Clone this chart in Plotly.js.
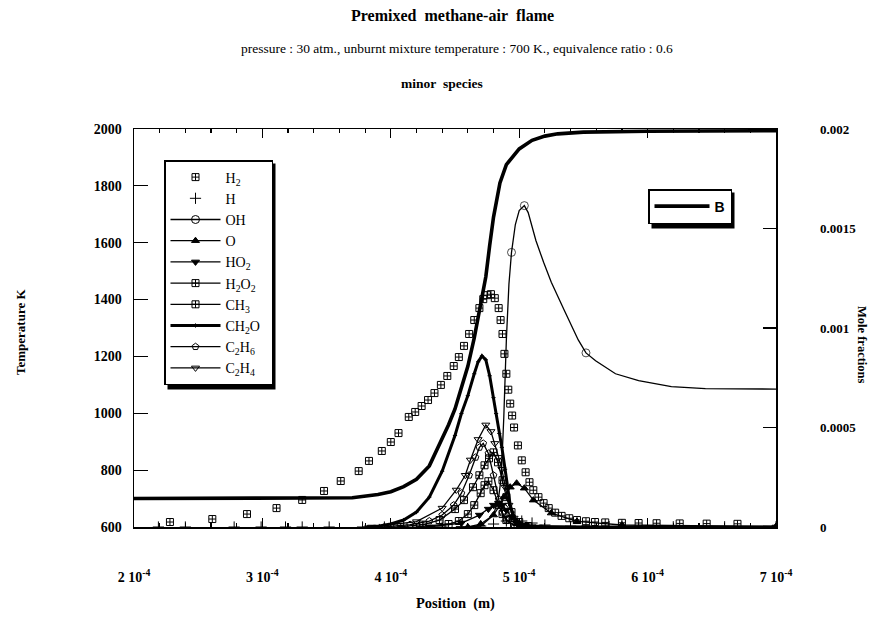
<!DOCTYPE html>
<html><head><meta charset="utf-8">
<script src="https://cdn.plot.ly/plotly-3.0.1.min.js"></script>
<style>html,body{margin:0;padding:0;background:#fff}</style>
</head><body><div id="chart" style="width:880px;height:625px"></div>
<script>
// ---- tick labels ----
const xTickVals = [2e-4, 3e-4, 4e-4, 5e-4, 6e-4, 7e-4];
const xTickText = ['2 10<sup>-4</sup>', '3 10<sup>-4</sup>', '4 10<sup>-4</sup>', '5 10<sup>-4</sup>', '6 10<sup>-4</sup>', '7 10<sup>-4</sup>'];
const tempTickVals = [600, 800, 1000, 1200, 1400, 1600, 1800, 2000];
const moleTickVals = [0, 0.0005, 0.001, 0.0015, 0.002];
const moleTickText = ['0', '0.0005', '0.001', '0.0015', '0.002'];

// ---- temperature (left axis) ----
const posT = [2.0e-4,3.0e-4,3.5e-4,3.7e-4,3.9e-4,4.0e-4,4.1e-4,4.2e-4,4.3e-4,4.38e-4,4.45e-4,4.5e-4,4.55e-4,4.6e-4,4.65e-4,4.7e-4,4.74e-4,4.77e-4,4.8e-4,4.85e-4,4.9e-4,5.0e-4,5.1e-4,5.2e-4,5.3e-4,5.5e-4,6.0e-4,7.0e-4];
const temperature = [700,700,701,703,714,724,742,768,815,890,960,1015,1085,1165,1265,1380,1480,1590,1690,1810,1875,1930,1960,1975,1983,1989,1992,1994];

// ---- species mole fractions (right axis) ----
const posH2 = [2.28e-4,2.61e-4,2.88e-4,3.11e-4,3.31e-4,3.48e-4,3.61e-4,3.75e-4,3.83e-4,3.93e-4,4.00e-4,4.06e-4,4.14e-4,4.19e-4,4.24e-4,4.29e-4,4.34e-4,4.39e-4,4.44e-4,4.49e-4,4.53e-4,4.57e-4,4.61e-4,4.65e-4,4.69e-4,4.72e-4,4.75e-4,4.78e-4,4.81e-4,4.84e-4,4.855e-4,4.87e-4,4.885e-4,4.90e-4,4.915e-4,4.93e-4,4.945e-4,4.96e-4,4.99e-4,5.02e-4,5.05e-4,5.08e-4,5.11e-4,5.15e-4,5.19e-4,5.23e-4,5.28e-4,5.33e-4,5.39e-4,5.45e-4,5.52e-4,5.59e-4,5.67e-4,5.80e-4,5.93e-4,6.07e-4,6.25e-4,6.46e-4,6.70e-4];
const moleH2 = [2.5e-5,4.0e-5,6.5e-5,9.5e-5,1.36e-4,1.81e-4,2.31e-4,2.81e-4,3.32e-4,3.82e-4,4.27e-4,4.72e-4,5.53e-4,5.78e-4,6.08e-4,6.38e-4,6.73e-4,7.14e-4,7.59e-4,8.09e-4,8.54e-4,9.1e-4,9.7e-4,1.04e-3,1.10e-3,1.145e-3,1.165e-3,1.17e-3,1.15e-3,1.10e-3,1.04e-3,9.7e-4,8.7e-4,7.7e-4,6.9e-4,6.2e-4,5.6e-4,5.0e-4,4.1e-4,3.35e-4,2.75e-4,2.25e-4,1.85e-4,1.5e-4,1.2e-4,9.5e-5,7.2e-5,5.6e-5,4.4e-5,3.5e-5,2.9e-5,2.5e-5,2.3e-5,2.1e-5,2.0e-5,1.9e-5,1.8e-5,1.7e-5,1.6e-5];

const posH = [2.19e-4,2.40e-4,2.78e-4,2.99e-4,3.18e-4,3.31e-4,3.52e-4,3.78e-4,3.95e-4,4.10e-4,4.25e-4,4.40e-4,4.55e-4,4.70e-4,4.80e-4,4.90e-4,4.96e-4,5.02e-4,5.10e-4,5.20e-4,5.40e-4,5.70e-4,6.20e-4,6.60e-4,7.00e-4];
const moleH = [0,0,0,0,0,0,0,0,0,0,0,0,2e-6,5e-6,1.5e-5,3.0e-5,3.5e-5,3.0e-5,2.0e-5,1.0e-5,4e-6,2e-6,1e-6,1e-6,1e-6];

const posOH = [4.60e-4,4.70e-4,4.80e-4,4.84e-4,4.86e-4,4.88e-4,4.90e-4,4.92e-4,4.94e-4,4.97e-4,5.00e-4,5.04e-4,5.07e-4,5.13e-4,5.19e-4,5.25e-4,5.35e-4,5.46e-4,5.52e-4,5.595e-4,5.75e-4,5.93e-4,6.185e-4,6.45e-4,7.00e-4];
const moleOH = [0,5e-6,6e-5,1.5e-4,2.5e-4,5.5e-4,9.4e-4,1.22e-3,1.38e-3,1.52e-3,1.59e-3,1.615e-3,1.58e-3,1.44e-3,1.33e-3,1.23e-3,1.09e-3,9.4e-4,8.75e-4,8.35e-4,7.7e-4,7.35e-4,7.05e-4,6.95e-4,6.93e-4];
const posOHMarkers = [4.94e-4, 5.04e-4, 5.52e-4];

const posO = [4.60e-4,4.70e-4,4.80e-4,4.85e-4,4.88e-4,4.93e-4,4.98e-4,5.04e-4,5.11e-4,5.25e-4,5.45e-4,5.80e-4,7.00e-4];
const moleO = [0,1.5e-5,6e-5,1.1e-4,1.5e-4,2.0e-4,2.2e-4,1.95e-4,1.35e-4,7.0e-5,2.8e-5,1.0e-5,3e-6];

const posHO2 = [4.30e-4,4.55e-4,4.69e-4,4.76e-4,4.80e-4,4.84e-4,4.87e-4,4.90e-4,4.94e-4,4.98e-4,5.04e-4,5.15e-4];
const moleHO2 = [0,2e-5,6e-5,9e-5,1.1e-4,1.2e-4,1.1e-4,8.5e-5,5e-5,2e-5,5e-6,0];

const posH2O2 = [4.20e-4,4.45e-4,4.53e-4,4.60e-4,4.65e-4,4.70e-4,4.73e-4,4.76e-4,4.80e-4,4.84e-4,4.87e-4,4.90e-4,4.96e-4,5.05e-4];
const moleH2O2 = [0,1.5e-5,3e-5,6.5e-5,1.1e-4,1.7e-4,2.1e-4,2.3e-4,1.85e-4,1.1e-4,6.5e-5,3.5e-5,1e-5,0];

const posCH3 = [4.05e-4,4.25e-4,4.38e-4,4.50e-4,4.57e-4,4.64e-4,4.69e-4,4.73e-4,4.765e-4,4.80e-4,4.835e-4,4.87e-4,4.90e-4,4.94e-4,5.00e-4,5.07e-4];
const moleCH3 = [0,1.2e-5,3.5e-5,9e-5,1.35e-4,2.0e-4,2.6e-4,3.1e-4,3.45e-4,3.75e-4,3.25e-4,2.35e-4,1.5e-4,7.5e-5,2.5e-5,5e-6];

const posCH2O = [3.80e-4,3.91e-4,4.00e-4,4.10e-4,4.20e-4,4.30e-4,4.40e-4,4.50e-4,4.55e-4,4.60e-4,4.65e-4,4.68e-4,4.71e-4,4.74e-4,4.77e-4,4.80e-4,4.82e-4,4.845e-4,4.865e-4,4.89e-4,4.91e-4,4.93e-4,4.96e-4,5.00e-4,5.10e-4,5.52e-4,7.00e-4];
const moleCH2O = [0,5e-6,1.5e-5,3.5e-5,7.5e-5,1.5e-4,2.8e-4,4.6e-4,5.7e-4,6.6e-4,7.7e-4,8.3e-4,8.6e-4,8.4e-4,7.6e-4,6.5e-4,5.7e-4,4.7e-4,4.0e-4,2.9e-4,1.9e-4,1.1e-4,5e-5,1.5e-5,2e-6,0,0];

const posC2H6 = [3.95e-4,4.15e-4,4.30e-4,4.40e-4,4.49e-4,4.55e-4,4.61e-4,4.66e-4,4.69e-4,4.72e-4,4.76e-4,4.80e-4,4.84e-4,4.87e-4,4.90e-4,4.96e-4,5.05e-4];
const moleC2H6 = [0,1.2e-5,3.0e-5,6.0e-5,1.1e-4,1.7e-4,2.6e-4,3.5e-4,4.0e-4,4.2e-4,3.7e-4,2.6e-4,1.4e-4,7e-5,3.5e-5,8e-6,0];

const posC2H4 = [3.85e-4,4.20e-4,4.40e-4,4.51e-4,4.58e-4,4.62e-4,4.68e-4,4.74e-4,4.78e-4,4.81e-4,4.84e-4,4.865e-4,4.89e-4,4.92e-4,4.96e-4,5.00e-4,5.10e-4,5.52e-4,7.00e-4];
const moleC2H4 = [0,2.7e-5,9.5e-5,1.86e-4,2.6e-4,3.37e-4,4.4e-4,5.13e-4,4.8e-4,4.2e-4,3.5e-4,2.9e-4,2.0e-4,1.1e-4,4.5e-5,1.5e-5,2e-6,0,0];

// ---- build traces ----
const thin = 1.3;
function species(name, x, y, symbol, opts) {
  opts = opts || {};
  return {
    type: 'scatter', x: x, y: y, name: name, yaxis: 'y2', legend: 'legend',
    mode: opts.mode || 'lines+markers',
    line: {color: 'black', width: opts.width || thin},
    marker: {symbol: symbol, size: opts.size || 7, color: 'black', line: {color: 'black', width: 1}},
    showlegend: opts.showlegend !== false,
    hoverinfo: 'skip'
  };
}
const ohSizes = posOH.map(v => posOHMarkers.includes(v) ? 8 : 0);
const ohTrace = species('OH', posOH, moleOH, 'circle-open', {showlegend: false});
ohTrace.marker.size = ohSizes;
// legend-only entry for OH (no data drawn)
const ohLegend = species('OH', [null], [null], 'circle-open', {size: 8});

const traces = [
  species('H<sub>2</sub>', posH2, moleH2, 'square-cross-open', {mode: 'markers', size: 7}),
  species('H', posH, moleH, 'cross-thin-open', {mode: 'markers', size: 8}),
  ohLegend,
  species('O', posO, moleO, 'triangle-up', {size: 7}),
  species('HO<sub>2</sub>', posHO2, moleHO2, 'triangle-down', {size: 7}),
  species('H<sub>2</sub>O<sub>2</sub>\u00a0\u00a0\u00a0', posH2O2, moleH2O2, 'square-cross-open', {size: 7}),
  species('CH<sub>3</sub>', posCH3, moleCH3, 'square-cross-open', {size: 7}),
  species('CH<sub>2</sub>O', posCH2O, moleCH2O, 'cross-thin-open', {size: 3, width: 3}),
  species('C<sub>2</sub>H<sub>6</sub>', posC2H6, moleC2H6, 'pentagon-open', {size: 7}),
  species('C<sub>2</sub>H<sub>4</sub>', posC2H4, moleC2H4, 'triangle-down-open', {size: 7}),
  ohTrace,
  {type: 'scatter', x: posT, y: temperature, name: 'B', mode: 'lines', yaxis: 'y', legend: 'legend2',
   line: {color: 'black', width: 3.6}, hoverinfo: 'skip'}
];

const serif = 'Liberation Serif, Times New Roman, serif';
function px2x(p) { return (p - 134) / 642; }
function px2y(p) { return (527 - p) / 398; }
function shadow(l, t, r, b) {
  return {type: 'rect', xref: 'paper', yref: 'paper', layer: 'above',
    x0: px2x(l), x1: px2x(r), y0: px2y(t), y1: px2y(b), fillcolor: 'black', line: {width: 0}};
}

const layout = {
  width: 880, height: 625,
  margin: {l: 134, r: 104, t: 129, b: 98},
  paper_bgcolor: 'white', plot_bgcolor: 'white',
  font: {family: serif, color: 'black'},
  showlegend: true,
  xaxis: {
    range: [2e-4, 7e-4], tickmode: 'array', tickvals: xTickVals, ticktext: xTickText,
    ticks: 'inside', ticklen: 9, tickwidth: 1.2, tickcolor: 'black',
    showline: true, linewidth: 1.5, linecolor: 'black', mirror: 'ticks',
    showgrid: false, zeroline: false, ticklabelstandoff: 37,
    tickfont: {size: 14, family: serif, weight: 'bold'},
    minor: {ticks: 'inside', ticklen: 4, tickmode: 'linear', tick0: 2e-4, dtick: 2e-5, tickcolor: 'black', showgrid: false}
  },
  yaxis: {
    range: [600, 2000], tickmode: 'array', tickvals: tempTickVals,
    ticks: 'inside', ticklen: 14, tickwidth: 1.2, tickcolor: 'black',
    showline: true, linewidth: 1.5, linecolor: 'black',
    showgrid: false, zeroline: false, ticklabelstandoff: 8,
    tickfont: {size: 14, family: serif, weight: 'bold'}
  },
  yaxis2: {
    overlaying: 'y', side: 'right', range: [0, 0.002], tickmode: 'array',
    tickvals: moleTickVals, ticktext: moleTickText,
    ticks: 'inside', ticklen: 13, tickwidth: 1.2, tickcolor: 'black',
    showline: true, linewidth: 1.5, linecolor: 'black',
    showgrid: false, zeroline: false, ticklabelstandoff: 40,
    tickfont: {size: 13, family: serif, weight: 'bold'}
  },
  legend: {
    x: px2x(164), y: px2y(160), xanchor: 'left', yanchor: 'top',
    bgcolor: 'white', bordercolor: 'black', borderwidth: 1.5,
    font: {size: 14, family: serif}, tracegroupgap: 0, traceorder: 'normal', itemwidth: 50
  },
  legend2: {
    x: px2x(648), y: px2y(189), xanchor: 'left', yanchor: 'top',
    bgcolor: 'white', bordercolor: 'black', borderwidth: 1.5, itemwidth: 55,
    font: {size: 14, family: 'Liberation Sans, Arial, sans-serif', weight: 'bold'}
  },
  shapes: [shadow(167.5, 163.5, 275.5, 389.5), shadow(651.5, 192.5, 734.5, 228.5)],
  annotations: [
    {text: 'Premixed\u00a0\u00a0methane-air\u00a0\u00a0flame', xref: 'paper', yref: 'paper', x: px2x(452), y: px2y(16), showarrow: false, xanchor: 'center', yanchor: 'middle', font: {size: 16, family: serif, weight: 'bold'}},
    {text: 'pressure : 30 atm., unburnt mixture temperature : 700 K., equivalence ratio : 0.6', xref: 'paper', yref: 'paper', x: px2x(457), y: px2y(48), showarrow: false, xanchor: 'center', yanchor: 'middle', font: {size: 13.5, family: serif}},
    {text: 'minor\u00a0\u00a0species', xref: 'paper', yref: 'paper', x: px2x(442), y: px2y(83), showarrow: false, xanchor: 'center', yanchor: 'middle', font: {size: 13.5, family: serif, weight: 'bold'}},
    {text: 'Position\u00a0\u00a0(m)', xref: 'paper', yref: 'paper', x: px2x(455), y: px2y(603), showarrow: false, xanchor: 'center', yanchor: 'middle', font: {size: 14.5, family: serif, weight: 'bold'}},
    {text: 'Temperature K', xref: 'paper', yref: 'paper', x: px2x(20), y: px2y(332), showarrow: false, textangle: -90, xanchor: 'center', yanchor: 'middle', font: {size: 13, family: serif, weight: 'bold'}},
    {text: 'Mole fractions', xref: 'paper', yref: 'paper', x: px2x(862), y: px2y(345), showarrow: false, textangle: 90, xanchor: 'center', yanchor: 'middle', font: {size: 12.5, family: serif, weight: 'bold'}}
  ]
};

Plotly.newPlot('chart', traces, layout, {displayModeBar: false, staticPlot: true});
</script>
</body></html>
